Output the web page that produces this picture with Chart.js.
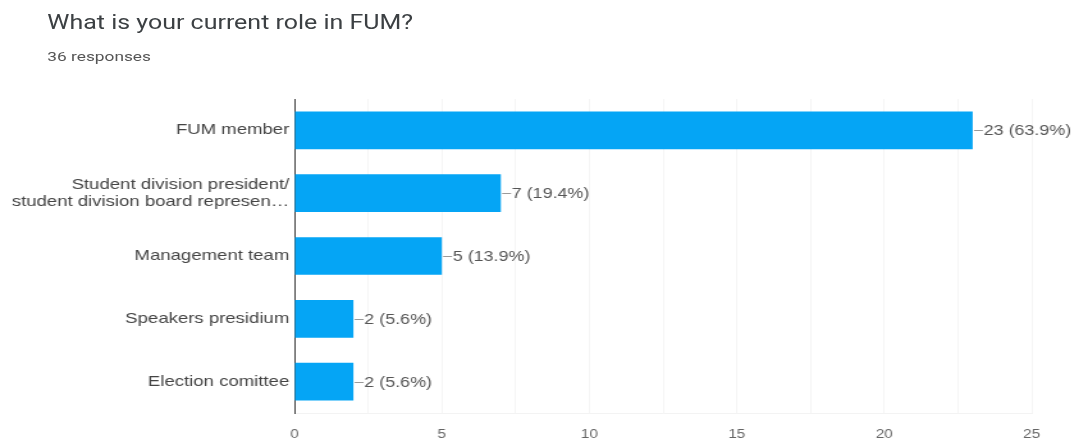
<!DOCTYPE html>
<html>
<head>
<meta charset="utf-8">
<script src="https://cdn.jsdelivr.net/npm/chart.js@4/dist/chart.umd.min.js"></script>
<style>
  html, body { margin: 0; padding: 0; background: #fff; overflow: hidden; }
  #wrap { position: absolute; left: 0; top: 0; width: 848px; height: 444px; transform: scaleX(1.28); transform-origin: 0 0; }
  #title { position: absolute; left: 37px; top: 12px; font: 19.5px Roboto, Arial, sans-serif; line-height: 22px; color: #3c4043; white-space: nowrap; }
  #sub { position: absolute; left: 37px; top: 48px; font: 13.5px Roboto, Arial, sans-serif; line-height: 16px; color: #555; white-space: nowrap; }
  #c { position: absolute; left: 0; top: 0; }
</style>
</head>
<body>
<div id="wrap">
  <div id="title">What is your current role in FUM?</div>
  <div id="sub">36 responses</div>
  <canvas id="c" width="848" height="444"></canvas>
</div>
<script>
const totalResponses = 36;
const categories = [
  'FUM member',
  ['Student division president/', 'student division board represen…'],
  'Management team',
  'Speakers presidium',
  'Election comittee'
];
const counts = [23, 7, 5, 2, 2];
const xTickMax = 25;
const xTickLabels = [0, 5, 10, 15, 20, 25];

const valueLabels = {
  id: 'valueLabels',
  afterDatasetsDraw(chart) {
    const ctx = chart.ctx;
    const meta = chart.getDatasetMeta(0);
    ctx.save();
    ctx.font = '14px "Liberation Sans", Arial, sans-serif';
    ctx.fillStyle = '#555';
    ctx.strokeStyle = '#9a9a9a';
    ctx.lineWidth = 1;
    ctx.textBaseline = 'middle';
    ctx.textAlign = 'left';
    meta.data.forEach((bar, i) => {
      const v = counts[i];
      const pct = (v / totalResponses * 100).toFixed(1);
      const x = bar.x, y = Math.round(bar.y) + 0.5;
      ctx.beginPath();
      ctx.moveTo(x + 1, y);
      ctx.lineTo(x + 8, y);
      ctx.stroke();
      ctx.fillText(v + ' (' + pct + '%)', x + 8.5, y + 0.5);
    });
    ctx.restore();
  }
};

new Chart(document.getElementById('c'), {
  type: 'bar',
  data: {
    labels: categories,
    datasets: [{
      data: counts,
      backgroundColor: '#05a5f5',
      borderWidth: 0,
      barPercentage: 0.6,
      categoryPercentage: 1.0
    }]
  },
  plugins: [valueLabels],
  options: {
    indexAxis: 'y',
    responsive: false,
    animation: false,
    devicePixelRatio: 1,
    layout: { padding: { top: 99, right: 42, bottom: 0, left: 0 } },
    plugins: { legend: { display: false }, tooltip: { enabled: false }, title: { display: false } },
    scales: {
      x: {
        min: 0,
        max: xTickMax,
        ticks: {
          stepSize: 2.5,
          padding: 14,
          color: '#666',
          font: { family: '"Liberation Sans", Arial, sans-serif', size: 12 },
          callback: (v) => xTickLabels.includes(v) ? String(v) : ''
        },
        grid: { color: '#f5f5f5', drawTicks: false, lineWidth: 1 },
        border: { display: true, color: '#f3f3f3' },
        afterFit(scale) { scale.height = 31; }
      },
      y: {
        ticks: {
          padding: 4,
          color: '#444',
          font: { family: '"Liberation Sans", Arial, sans-serif', size: 14.5, lineHeight: 1.15 }
        },
        grid: { display: false, drawTicks: false },
        border: { display: true, color: '#444', width: 1 },
        afterFit(scale) { scale.width = 230; }
      }
    }
  }
});
</script>
</body>
</html>
